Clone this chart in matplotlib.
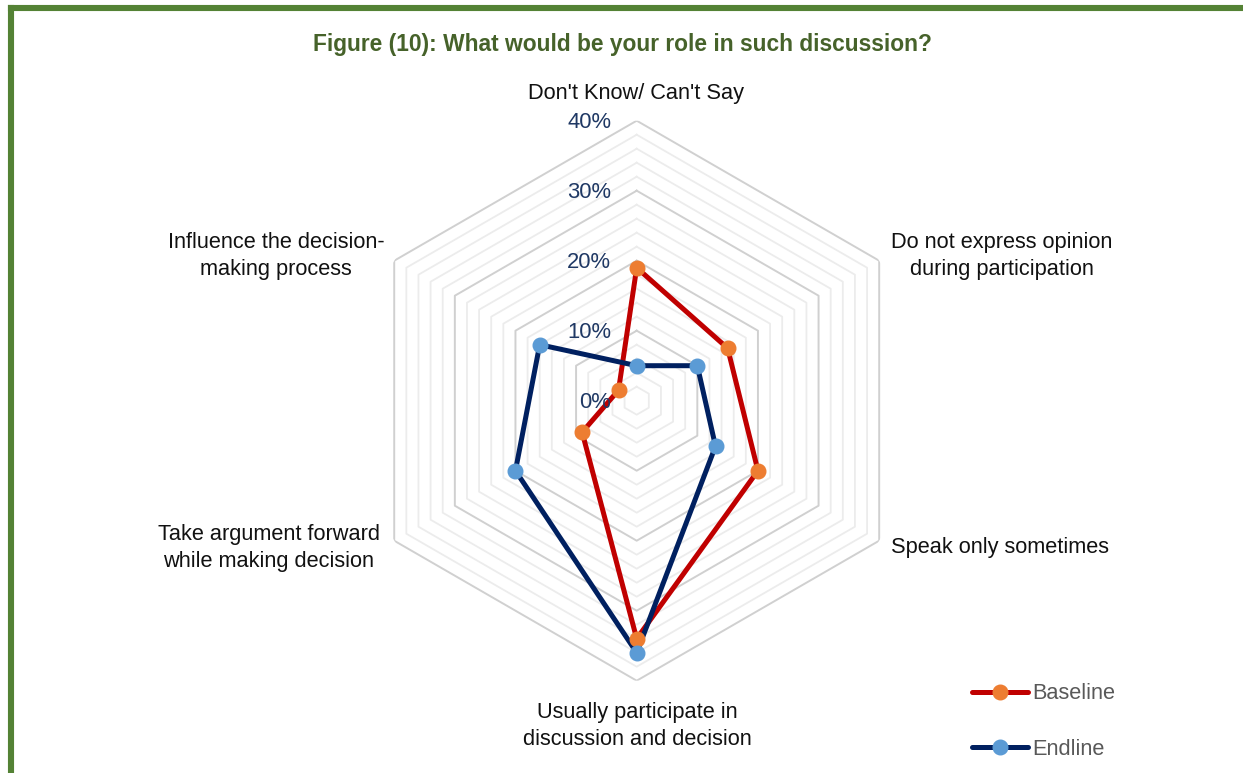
import numpy as np
import matplotlib
matplotlib.use("Agg")
import matplotlib.pyplot as plt
from matplotlib import font_manager
from matplotlib.lines import Line2D
from matplotlib.transforms import ScaledTranslation

categories = [
    "Don't Know/ Can't Say",
    "Do not express opinion\nduring participation",
    "Speak only sometimes",
    "Usually participate in\ndiscussion and decision",
    "Take argument forward\nwhile making decision",
    "Influence the decision-\nmaking process",
]
baseline = [19, 15, 20, 34, 9, 3]
endline = [5, 10, 13, 36, 20, 16]
major_ticks = [0, 10, 20, 30, 40]
minor_ticks = [2, 4, 6, 8, 12, 14, 16, 18, 22, 24, 26, 28, 32, 34, 36, 38]
tick_labels = ["0%", "10%", "20%", "30%", "40%"]
title = "Figure (10): What would be your role in such discussion?"

W, H = 1243, 773
plt.rcParams["font.family"] = ["Liberation Sans", "DejaVu Sans"]

installed = {f.name for f in font_manager.fontManager.ttflist}
if "Liberation Sans Narrow" in installed:
    title_family, title_size = ["Liberation Sans Narrow", "Liberation Sans"], 19.5
else:
    title_family, title_size = ["Liberation Sans", "DejaVu Sans"], 16.4

fig = plt.figure(figsize=(W / 100, H / 100), dpi=100)
fig.patch.set_facecolor("white")

# green frame (open on right and bottom)
frame_col = "#548235"
fig.add_artist(Line2D([11 / W, 11 / W], [0, 1 - 8 / H], transform=fig.transFigure,
                      color=frame_col, lw=4.4, solid_capstyle="projecting"))
fig.add_artist(Line2D([11 / W, 1], [1 - 8 / H, 1 - 8 / H], transform=fig.transFigure,
                      color=frame_col, lw=4.4, solid_capstyle="projecting"))

cx, cy, R = 636.7, 400.7, 280.0
ax = fig.add_axes([(cx - R) / W, (H - cy - R) / H, 2 * R / W, 2 * R / H],
                  projection="polar")
ax.set_theta_zero_location("N")
ax.set_theta_direction(-1)
ax.set_ylim(0, 40)
ax.set_axis_off()

n = len(categories)
theta = np.linspace(0, 2 * np.pi, n, endpoint=False)
theta_c = np.append(theta, theta[0])

for r in minor_ticks:
    ax.plot(theta_c, [r] * (n + 1), color="#ECECEC", lw=1.3, zorder=1)
for r in major_ticks[1:]:
    ax.plot(theta_c, [r] * (n + 1), color="#D0D0D0", lw=1.4, zorder=1.5)

lab_off = ScaledTranslation(-0.255, -0.015, fig.dpi_scale_trans)
for r, t in zip(major_ticks, tick_labels):
    ax.text(0, r, t, transform=ax.transData + lab_off, ha="right", va="center",
            fontsize=15.8, color="#1F3864", zorder=5)

def series(vals, line_col, mk_col, label):
    v = list(vals) + [vals[0]]
    ax.plot(theta_c, v, color=line_col, lw=3.6, zorder=3,
            solid_joinstyle="round")
    ax.plot(theta, vals, linestyle="none", marker="o", ms=10.5,
            markerfacecolor=mk_col, markeredgecolor=mk_col, zorder=4)
    return Line2D([], [], color=line_col, lw=3.6, marker="o", ms=10.5,
                  markerfacecolor=mk_col, markeredgecolor=mk_col,
                  solid_capstyle="round", label=label)

h1 = series(baseline, "#C00000", "#ED7D31", "Baseline")
h2 = series(endline, "#002060", "#5B9BD5", "Endline")

# category labels
label_pos = [(636.5, 94), (1002, 256), (1000, 548), (637, 726), (269, 548), (276, 256)]
for txt, (x, y) in zip(categories, label_pos):
    fig.text(x / W, 1 - y / H, txt, ha="center", va="center", fontsize=15.7,
             color="#111111", linespacing=1.33)

fig.text(622 / W, 1 - 44 / H, title, ha="center", va="center",
         fontsize=title_size, fontweight="bold", color="#46622A",
         family=title_family)

leg = fig.legend(handles=[h1, h2], loc="center left",
                 bbox_to_anchor=(972 / W, 1 - 721.5 / H), frameon=False,
                 fontsize=15.7, handlelength=2.55, handletextpad=0.2,
                 labelspacing=1.58, borderpad=0, borderaxespad=0, numpoints=1)
for t in leg.get_texts():
    t.set_color("#595959")

fig.savefig("out.png", dpi=100, facecolor="white")
